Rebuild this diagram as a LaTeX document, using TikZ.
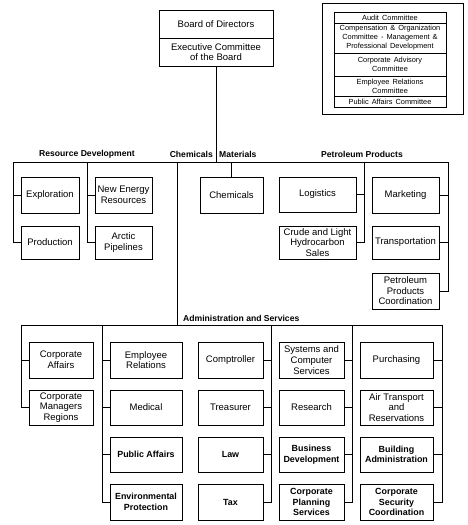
\documentclass[tikz,border=0pt]{standalone}
\usepackage{fontspec}
\setmainfont{Liberation Sans}
\usepackage{tikz}
\usetikzlibrary{positioning, calc}
\newcommand{\widespace}{\spaceskip=3pt plus 1pt\relax}
\tikzset{
    unit/.style={draw, line width=0.8pt, align=center, inner sep=1pt, font=\fontsize{9.5}{10.6}\selectfont},
    boldunit/.style={unit, line width=1pt, font=\fontsize{8.9}{10.6}\selectfont\bfseries},
    group/.style={font=\fontsize{8.6}{10}\selectfont\bfseries, inner sep=0pt},
    cmte/.style={draw, line width=0.6pt, align=center, inner sep=0pt, minimum width=112, font=\fontsize{7.4}{9}\selectfont\widespace},
    link/.style={line width=1pt}
}

\begin{document}
\begin{tikzpicture}[x=1pt, y=-1pt]
                        \useasboundingbox (0, 0) rectangle (467, 525);

                        % board
                        \node[unit, minimum width=114, minimum height=28] (board) at (216, 24) {Board of Directors};
                        \node[unit, minimum width=114, minimum height=28] (exec) at (216, 52) {Executive Committee\\of the Board};

                        % committees of the board
                        \draw[line width=0.9pt] (322, 3) rectangle (463, 114);
                        \node[cmte, minimum height=11] (audit) at (390, 17.5) {Audit Committee};
                        \node[cmte, minimum height=30] (comp) at (390, 38) {Compensation \& Organization\\Committee - Management \&\\Professional Development};
                        \node[cmte, minimum height=23] (advis) at (390, 64.5) {Corporate Advisory\\Committee};
                        \node[cmte, minimum height=20] (emprel) at (390, 86) {Employee Relations\\Committee};
                        \node[cmte, minimum height=11] (pubaff) at (390, 101.5) {Public Affairs Committee};

                        % groups
                        \node[group] (resdev) at (87, 154) {Resource Development};
                        \node[group, anchor=east] (chemgrp) at (213, 154) {Chemicals};
                        \node[group, anchor=west] (matgrp) at (219, 154) {Materials};
                        \node[group] (petgrp) at (362, 154) {Petroleum Products};
                        \node[group, anchor=west] (admgrp) at (183, 318) {Administration and Services};

                        % resource development
                        \node[unit, minimum width=58, minimum height=36] (explor) at (50, 195) {Exploration};
                        \node[unit, minimum width=58, minimum height=33] (prod) at (50, 242.5) {Production};
                        \node[unit, minimum width=57, minimum height=36] (newen) at (123.5, 195) {New Energy\\Resources};
                        \node[unit, minimum width=57, minimum height=33] (arctic) at (123.5, 242.5) {Arctic\\Pipelines};

                        % chemicals / materials
                        \node[unit, minimum width=63, minimum height=36] (chem) at (231.5, 195) {Chemicals};

                        % petroleum products
                        \node[unit, minimum width=77, minimum height=35] (logis) at (317.5, 194.5) {Logistics};
                        \node[unit, minimum width=77, minimum height=33] (crude) at (317.5, 242.5) {Crude and Light\\Hydrocarbon\\Sales};
                        \node[unit, minimum width=67, minimum height=36] (market) at (405.5, 195) {Marketing};
                        \node[unit, minimum width=67, minimum height=33] (transp) at (405.5, 242.5) {Transportation};
                        \node[unit, minimum width=67, minimum height=36] (ppcoord) at (405.5, 291) {Petroleum\\Products\\Coordination};

                        % administration and services
                        \node[unit, minimum width=64, minimum height=36] (corpaff) at (61, 360) {Corporate\\Affairs};
                        \node[unit, minimum width=64, minimum height=35] (corpman) at (61, 407.5) {Corporate\\Managers\\Regions};

                        \node[unit, minimum width=72, minimum height=36] (employ) at (146, 360) {Employee\\Relations};
                        \node[unit, minimum width=72, minimum height=35] (medic) at (146, 407.5) {Medical};
                        \node[boldunit, minimum width=72, minimum height=35] (public) at (146, 454.5) {Public Affairs};
                        \node[boldunit, minimum width=72, minimum height=36] (envir) at (146, 502) {Environmental\\Protection};

                        \node[unit, minimum width=65, minimum height=36] (comptr) at (230.5, 360) {Comptroller};
                        \node[unit, minimum width=65, minimum height=35] (treas) at (230.5, 407.5) {Treasurer};
                        \node[boldunit, minimum width=65, minimum height=35] (law) at (230.5, 454.5) {Law};
                        \node[boldunit, minimum width=65, minimum height=36] (tax) at (230.5, 502) {Tax};

                        \node[unit, minimum width=65, minimum height=36] (systems) at (311.5, 360) {Systems and\\Computer\\Services};
                        \node[unit, minimum width=65, minimum height=35] (research) at (311.5, 407.5) {Research};
                        \node[boldunit, minimum width=65, minimum height=35] (busdev) at (311.5, 454.5) {Business\\Development};
                        \node[boldunit, minimum width=65, minimum height=36] (planning) at (311.5, 502) {Corporate\\Planning\\Services};

                        \node[unit, minimum width=73, minimum height=36] (purch) at (396.5, 360) {Purchasing};
                        \node[unit, minimum width=73, minimum height=35] (airtr) at (396.5, 407.5) {Air Transport\\and\\Reservations};
                        \node[boldunit, minimum width=73, minimum height=35] (building) at (396.5, 454.5) {Building\\Administration};
                        \node[boldunit, minimum width=73, minimum height=36] (security) at (396.5, 502) {Corporate\\Security\\Coordination};

                        % bus points
                        \coordinate (busL) at (13, 162);
                        \coordinate (busR) at (448, 162);
                        \coordinate (rdB) at (87, 162);
                        \coordinate (adm) at (177, 162);
                        \coordinate (ppA) at (364, 162);
                        \coordinate (admL) at (21, 325);
                        \coordinate (admR) at (442, 325);
                        \coordinate (admB) at (102, 325);
                        \coordinate (admC) at (271, 325);
                        \coordinate (admD) at (352, 325);

                        \draw[link]
                        (exec) -- (exec |- busL)
                        (busL) -- (busR)
                        (busL) |- (explor.west)
                        (busL) |- (prod.west)
                        (rdB) |- (newen.west)
                        (rdB) |- (arctic.west)
                        (chem.north) -- (chem.north |- busL)
                        (ppA) |- (logis.east)
                        (ppA) |- (crude.east)
                        (busR) |- (market.east)
                        (busR) |- (transp.east)
                        (busR) |- (ppcoord.east)
                        (adm) -- (adm |- admL)
                        (admL) -- (admR)
                        (admL) |- (corpaff.west)
                        (admL) |- (corpman.west)
                        (admB) |- (employ.west)
                        (admB) |- (medic.west)
                        (admB) |- (public.west)
                        (admB) |- (envir.west)
                        (admC) |- (comptr.east)
                        (admC) |- (treas.east)
                        (admC) |- (law.east)
                        (admC) |- (tax.east)
                        (admD) |- (systems.east)
                        (admD) |- (research.east)
                        (admD) |- (busdev.east)
                        (admD) |- (planning.east)
                        (admR) |- (purch.east)
                        (admR) |- (airtr.east)
                        (admR) |- (building.east)
                        (admR) |- (security.east);
                    \end{tikzpicture}
\end{document}
